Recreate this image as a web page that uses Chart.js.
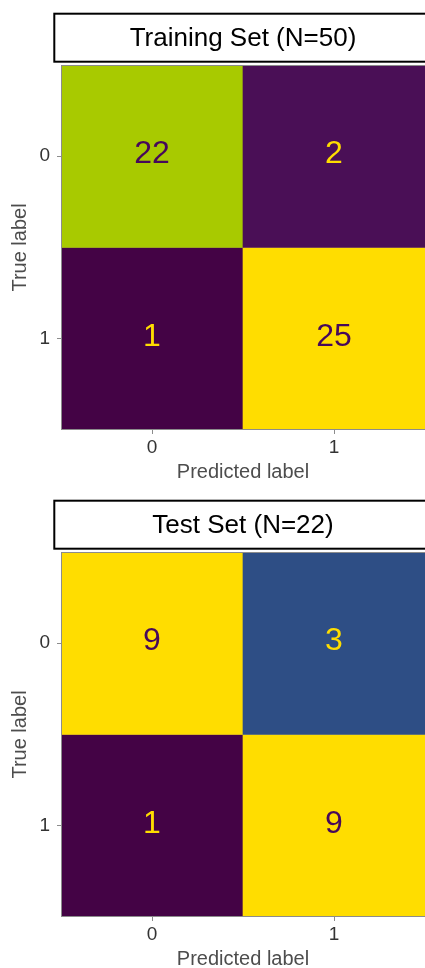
<!DOCTYPE html>
<html>
<head>
<meta charset="utf-8">
<script src="https://cdn.jsdelivr.net/npm/chart.js@4/dist/chart.umd.min.js"></script>
<style>
  html, body { margin: 0; padding: 0; background: #fff; overflow: hidden; }
  body { width: 425px; height: 968px; position: relative; }
  .panel { position: absolute; left: 0; width: 425px; height: 487px; }
  #trainPanel { top: 0; }
  #testPanel { top: 487px; }
</style>
</head>
<body>
<div class="panel" id="trainPanel"><canvas id="trainChart" width="425" height="487"></canvas></div>
<div class="panel" id="testPanel"><canvas id="testChart" width="425" height="487"></canvas></div>
<script>
// Class labels on each axis
const predictedLabels = ['0', '1'];
const trueLabels = ['0', '1'];

// Confusion matrix counts, one array per true-label row
const trainRow0 = [22, 2];
const trainRow1 = [1, 25];
const testRow0 = [9, 3];
const testRow1 = [1, 9];

const trainTitle = 'Training Set (N=50)';
const testTitle = 'Test Set (N=22)';

const FONT = '"Liberation Sans", Arial, sans-serif';

// Viridis-style colour ramp
const rampStops = [
  [0.0, [68, 3, 69]],
  [0.04, [74, 14, 86]],
  [0.25, [46, 78, 133]],
  [0.5, [33, 144, 140]],
  [0.75, [94, 201, 98]],
  [0.875, [168, 202, 0]],
  [1.0, [255, 221, 0]]
];
function rampColor(t) {
  t = Math.max(0, Math.min(1, t));
  for (let i = 1; i < rampStops.length; i++) {
    const [t1, c1] = rampStops[i];
    const [t0, c0] = rampStops[i - 1];
    if (t <= t1) {
      const f = (t - t0) / (t1 - t0);
      const c = c0.map((v, k) => Math.round(v + (c1[k] - v) * f));
      return `rgb(${c[0]},${c[1]},${c[2]})`;
    }
  }
  const c = rampStops[rampStops.length - 1][1];
  return `rgb(${c[0]},${c[1]},${c[2]})`;
}
const DARK_TEXT = '#46085a';
const LIGHT_TEXT = '#ffdd00';

// Frame, heading box and cell counts
const matrixDecor = {
  id: 'matrixDecor',
  afterDatasetsDraw(chart) {
    const { ctx, chartArea: a } = chart;
    const o = chart.options.plugins.matrixDecor;
    ctx.save();
    // counts in each cell
    ctx.font = `32px ${FONT}`;
    ctx.textAlign = 'center';
    ctx.textBaseline = 'middle';
    chart.data.datasets.forEach((ds, i) => {
      const meta = chart.getDatasetMeta(i);
      meta.data.forEach((el, j) => {
        const v = ds.counts[j];
        const t = (v - o.vmin) / (o.vmax - o.vmin);
        ctx.fillStyle = t < 0.5 ? LIGHT_TEXT : DARK_TEXT;
        ctx.fillText(String(v), el.x, (el.y + el.base) / 2 - 2);
      });
    });
    // plot frame (right side runs past the canvas edge)
    ctx.strokeStyle = '#8c8c8c';
    ctx.lineWidth = 1;
    ctx.strokeRect(Math.round(a.left) + 0.5, Math.round(a.top) + 0.5,
      Math.round(a.right - a.left) + 2, Math.round(a.bottom - a.top) - 1);
    // heading box
    const bx = a.left - 6.7, by = a.top - 51.3;
    const bw = (a.right - a.left) + 13.4, bh = 48;
    ctx.fillStyle = '#ffffff';
    ctx.fillRect(bx, by, bw, bh);
    ctx.strokeStyle = '#000000';
    ctx.lineWidth = 2;
    ctx.strokeRect(bx, by, bw, bh);
    ctx.fillStyle = '#000000';
    ctx.font = `26px ${FONT}`;
    ctx.textBaseline = 'middle';
    ctx.fillText(o.title, (a.left + a.right) / 2, by + bh / 2 + 1);
    ctx.restore();
  }
};

function buildMatrix(canvasId, rows, title) {
  const all = rows.flat();
  const vmin = Math.min(...all), vmax = Math.max(...all);
  const datasets = rows.map((row, r) => ({
    label: trueLabels[r],
    counts: row,
    data: row.map(() => [r - 0.5, r + 0.5]),
    backgroundColor: row.map(v => rampColor((v - vmin) / (vmax - vmin))),
    borderWidth: 0,
    barPercentage: 1,
    categoryPercentage: 1,
    grouped: false
  }));
  return new Chart(document.getElementById(canvasId), {
    type: 'bar',
    data: { labels: predictedLabels, datasets },
    plugins: [matrixDecor],
    options: {
      responsive: false,
      animation: false,
      layout: { padding: { top: 65, left: 0, right: 0, bottom: 0 } },
      plugins: {
        legend: { display: false },
        tooltip: { enabled: false },
        matrixDecor: { title, vmin, vmax }
      },
      scales: {
        x: {
          type: 'category',
          offset: true,
          afterFit(scale) { scale.height = 57; },
          grid: { offset: false, drawOnChartArea: false, drawTicks: true, tickLength: 4, color: '#8c8c8c' },
          border: { display: false },
          ticks: { color: '#333333', font: { family: FONT, size: 19 }, padding: 2, maxRotation: 0 },
          title: { display: true, text: 'Predicted label', color: '#4d4d4d',
                   font: { family: FONT, size: 20 }, padding: { top: 0, bottom: 3 } }
        },
        y: {
          type: 'linear',
          reverse: true,
          min: -0.5,
          max: 1.5,
          afterFit(scale) { scale.width = 61; },
          afterBuildTicks(scale) { scale.ticks = trueLabels.map((_, i) => ({ value: i })); },
          grid: { drawOnChartArea: false, drawTicks: true, tickLength: 4, color: '#8c8c8c' },
          border: { display: false },
          ticks: { color: '#333333', font: { family: FONT, size: 19 }, padding: 7,
                   callback: v => trueLabels[v] },
          title: { display: true, text: 'True label', color: '#4d4d4d',
                   font: { family: FONT, size: 20 }, padding: { top: 8, bottom: 0 } }
        }
      }
    }
  });
}

buildMatrix('trainChart', [trainRow0, trainRow1], trainTitle);
buildMatrix('testChart', [testRow0, testRow1], testTitle);
</script>
</body>
</html>
